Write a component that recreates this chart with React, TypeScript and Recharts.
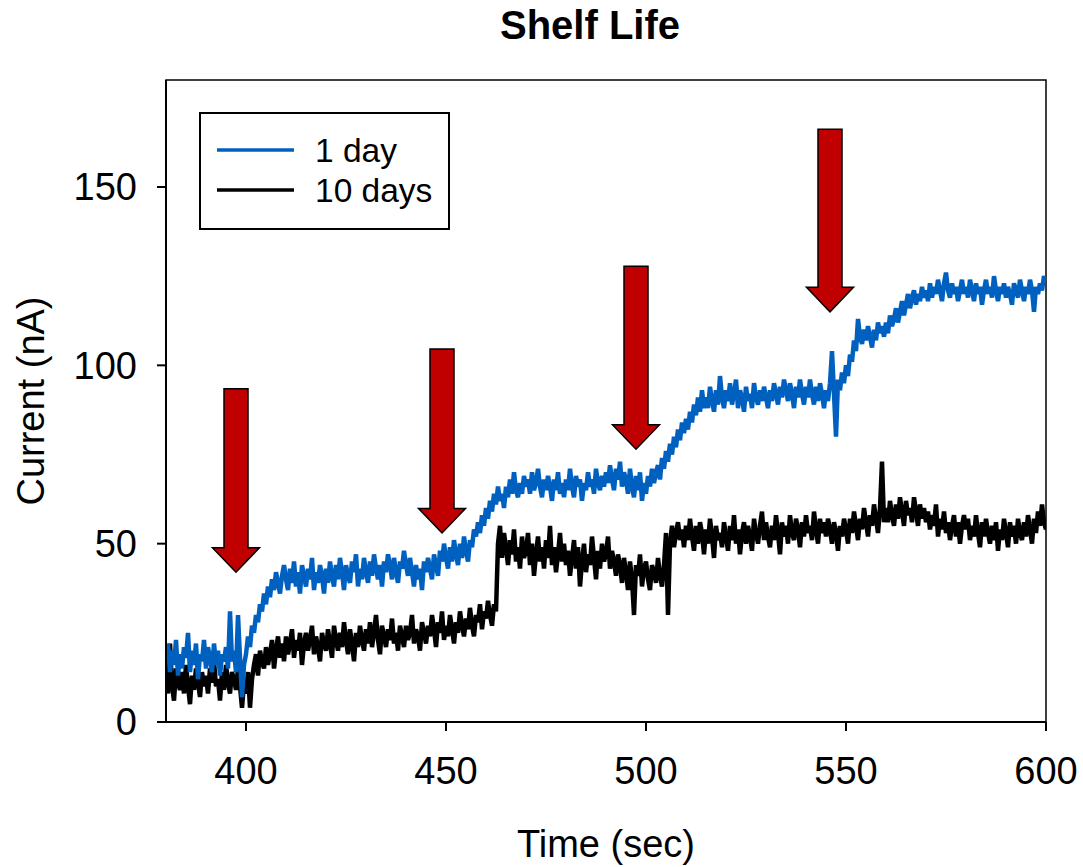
import React from 'react';
import { ComposedChart, Line, Scatter, XAxis, YAxis, Legend, ReferenceArea } from 'recharts';

const FONT = '"Liberation Sans", Arial, sans-serif';

// time axis starts at 380 s, one reading every 0.5 s
const T_START = 380;
const T_STEP = 0.5;
const timeTicks = [400, 450, 500, 550, 600];
const currentTicks = [0, 50, 100, 150];

// Current (nA), 1 day
const oneDay = [
  17, 22, 14, 20, 16, 23, 13, 19, 15, 21,
  18, 25, 14, 20, 16, 22, 12, 19, 17, 23,
  15, 21, 18, 14, 22, 16, 20, 13, 19, 17,
  21, 15, 31, 17, 20, 14, 30, 18, 7, 16,
  19, 24, 21, 27, 25, 30, 28, 33, 31, 36,
  33, 38, 35, 40, 37, 42, 39, 36, 41, 44,
  40, 37, 43, 39, 45, 38, 42, 36, 44, 41,
  38, 43, 40, 46, 37, 42, 39, 44, 41, 36,
  43, 39, 45, 41, 38, 44, 40, 46, 42, 37,
  44, 41, 39, 45, 42, 47, 38, 43, 40, 46,
  42, 39, 45, 41, 47, 43, 40, 44, 38, 45,
  42, 47, 44, 40, 46, 42, 39, 45, 43, 48,
  44, 41, 46, 42, 38, 44, 40, 43, 37, 45,
  42, 46, 43, 40, 47, 44, 41, 48, 45, 50,
  46, 43, 49, 45, 51, 47, 44, 50, 46, 52,
  48, 45, 51, 49, 54, 52, 56, 53, 58, 55,
  60, 57, 62, 59, 64, 61, 66, 62, 64, 60,
  66, 63, 68, 64, 70, 65, 63, 67, 64, 69,
  66, 68, 64, 70, 65, 67, 71, 66, 63, 68,
  65, 69, 66, 62, 68, 65, 70, 64, 67, 63,
  68, 65, 71, 66, 63, 69, 66, 68, 62, 67,
  65, 70, 66, 68, 64, 71, 67, 65, 69, 66,
  70, 67, 72, 68, 65, 71, 68, 73, 66, 70,
  68, 64, 71, 66, 63, 69, 65, 70, 62, 67,
  64, 69, 66, 71, 67, 70, 72, 68, 74, 71,
  76, 73, 78, 75, 80, 77, 82, 79, 84, 81,
  85, 82, 87, 84, 89, 86, 91, 87, 93, 88,
  91, 88, 94, 90, 87, 93, 89, 97, 91, 88,
  93, 90, 95, 89, 92, 96, 88, 93, 91, 87,
  94, 90, 92, 88, 95, 91, 89, 93, 90, 94,
  91, 88, 93, 90, 95, 92, 89, 94, 91, 96,
  93, 90, 95, 92, 88, 94, 91, 96, 92, 89,
  94, 91, 96, 92, 89, 94, 90, 95, 92, 88,
  93, 90, 95, 104, 92, 80, 96, 93, 98, 95,
  100, 97, 103, 101, 107, 104, 113, 108, 106, 110,
  107, 111, 108, 105, 110, 107, 112, 109, 111, 108,
  112, 109, 114, 111, 113, 116, 112, 115, 118, 114,
  117, 120, 116, 119, 121, 117, 120, 118, 122, 119,
  121, 118, 123, 119, 122, 120, 124, 121, 118, 123,
  126, 121, 119, 123, 120, 122, 118, 121, 124, 120,
  122, 119, 124, 121, 118, 123, 120, 122, 117, 121,
  124, 120, 122, 119, 125, 121, 118, 122, 120, 123,
  119, 122, 120, 117, 123, 121, 119, 124, 121, 118,
  122, 120, 124, 121, 115, 122, 120, 123, 121, 125,
  123,
];

// Current (nA), 10 days
const tenDays = [
  12, 8, 22, 10, 6, 15, 11, 9, 14, 8,
  16, 10, 5, 13, 9, 15, 11, 7, 14, 10,
  13, 8, 15, 11, 17, 10, 12, 6, 14, 9,
  16, 11, 8, 14, 12, 9, 15, 10, 4, 11,
  8, 14, 4, 12, 16, 19, 13, 20, 17, 15,
  21, 16, 19, 23, 15, 20, 24, 18, 22, 17,
  24, 19, 22, 26, 18, 23, 20, 25, 16, 22,
  25, 20, 23, 27, 19, 24, 21, 17, 25, 22,
  20, 26, 22, 18, 27, 23, 20, 25, 21, 28,
  23, 19, 26, 22, 17, 25, 21, 27, 23, 20,
  26, 22, 28, 21, 25, 30, 23, 19, 27, 24,
  21, 26, 23, 29, 22, 25, 20, 27, 24, 21,
  27, 23, 25, 30, 22, 26, 24, 20, 28, 25,
  22, 27, 24, 30, 26, 21, 28, 25, 31, 23,
  27, 24, 30, 26, 22, 28, 25, 31, 27, 24,
  29, 26, 32, 27, 24, 30, 28, 33, 26, 31,
  29, 34, 30, 27, 33, 31, 50, 55, 46, 53,
  49, 44, 51, 47, 54, 45, 49, 43, 52, 46,
  48, 53, 44, 50, 41, 47, 52, 45, 49, 43,
  51, 46, 55, 44, 49, 42, 47, 53, 45, 50,
  44, 48, 41, 46, 51, 43, 49, 38, 45, 50,
  42, 47, 44, 52, 46, 40, 48, 43, 50, 45,
  47, 52, 43, 48, 45, 41, 47, 44, 39, 46,
  42, 37, 45, 40, 30, 44, 41, 47, 38, 43,
  45, 40, 37, 44, 42, 39, 46, 41, 38, 44,
  53, 30, 50, 55, 49, 53, 56, 51, 54, 49,
  55, 51, 57, 52, 48, 55, 50, 56, 53, 47,
  54, 50, 57, 52, 46, 55, 51, 53, 49, 56,
  52, 48, 55, 51, 58, 50, 54, 47, 53, 56,
  50, 55, 52, 48, 57, 53, 50, 55, 59, 51,
  56, 52, 49, 55, 51, 58, 53, 47, 56, 52,
  55, 50, 58, 53, 51, 57, 54, 49, 56, 52,
  58, 53, 55, 51, 59, 54, 50, 57, 53, 56,
  52, 57, 54, 50, 56, 53, 48, 55, 52, 57,
  54, 50, 57, 53, 59, 55, 51, 57, 54, 60,
  56, 52, 58, 55, 61, 57, 53, 60, 73, 56,
  60, 56, 62, 58, 55, 61, 57, 63, 59, 55,
  62, 58, 60, 56, 63, 59, 55, 61, 57, 60,
  56, 59, 54, 58, 55, 61, 52, 57, 54, 59,
  53, 56, 51, 55, 58, 52, 56, 50, 55, 58,
  54, 57, 51, 55, 52, 58, 53, 49, 56, 52,
  57, 53, 50, 55, 51, 56, 48, 54, 51, 57,
  53, 49, 56, 52, 55, 50, 57, 53, 51, 56,
  52, 58, 54, 50, 57, 53, 59, 55, 61, 56,
  54,
];

// addition markers: time, top of the arrow and tip (nA)
const arrowTimes = [397.5, 449, 497.5, 546];
const arrowTops = [93.4, 104.6, 127.8, 166.2];
const arrowTips = [42, 53, 76.5, 115];

const oneDayData = oneDay.map((v, i) => ({ t: T_START + i * T_STEP, v }));
const tenDaysData = tenDays.map((v, i) => ({ t: T_START + i * T_STEP, v }));
const arrowData = arrowTimes.map((t, i) => ({ t, tip: arrowTips[i], top: arrowTops[i] }));

const W = 1083;
const H = 867;
const MARGIN = { top: 80, right: 37, bottom: 0, left: 0 };
const Y_AXIS_W = 166;
const X_AXIS_H = 145;
const Y_MAX = 180;
const PLOT_H = H - MARGIN.top - X_AXIS_H;
const PX_PER_UNIT = PLOT_H / Y_MAX;

const ArrowShape = (props: any) => {
  const { cx, cy, payload } = props;
  if (cx == null || cy == null) return null;
  const topY = cy - (payload.top - payload.tip) * PX_PER_UNIT;
  const sw = 12;
  const hw = 23.5;
  const hh = 24.5;
  const pts = [
    [cx - sw, topY],
    [cx + sw, topY],
    [cx + sw, cy - hh],
    [cx + hw, cy - hh],
    [cx, cy],
    [cx - hw, cy - hh],
    [cx - sw, cy - hh],
  ]
    .map((p) => p.join(','))
    .join(' ');
  return <polygon points={pts} fill="#C00000" stroke="#000" strokeWidth={1.5} strokeLinejoin="miter" />;
};

const LegendBox = (props: any) => {
  const items = (props.payload || []).filter((p: any) => p.type !== 'none');
  return (
    <svg width={251} height={118} style={{ display: 'block' }}>
      <rect x={1} y={1} width={249} height={116} fill="#fff" stroke="#000" strokeWidth={2} />
      {items.map((p: any, i: number) => (
        <g key={p.value}>
          <line x1={18} x2={95} y1={38 + i * 40} y2={38 + i * 40} stroke={p.color} strokeWidth={3.5} />
          <text x={116} y={49.5 + i * 40.5} fontSize={33.5} fontFamily={FONT} fill="#000">
            {p.value}
          </text>
        </g>
      ))}
    </svg>
  );
};

export default function App() {
  return (
    <div style={{ position: 'absolute', left: 0, top: 0, width: W, height: H, background: '#fff' }}>
      <div
        style={{
          position: 'absolute',
          left: 390,
          top: 5,
          width: 400,
          textAlign: 'center',
          fontFamily: FONT,
          fontWeight: 'bold',
          fontSize: 40,
          lineHeight: '40px',
          color: '#000',
        }}
      >
        Shelf Life
      </div>
      <ComposedChart width={W} height={H} margin={MARGIN}>
        <XAxis
          type="number"
          dataKey="t"
          domain={[380, 600]}
          ticks={timeTicks}
          allowDataOverflow
          height={X_AXIS_H}
          tickSize={9}
          tickMargin={26}
          stroke="#000"
          strokeWidth={2}
          tick={{ fontSize: 38, fill: '#000', fontFamily: FONT }}
          label={{
            value: 'Time (sec)',
            position: 'insideBottom',
            offset: 10,
            style: { fontSize: 38, fill: '#000', fontFamily: FONT },
          }}
        />
        <YAxis
          type="number"
          domain={[0, Y_MAX]}
          ticks={currentTicks}
          allowDataOverflow
          width={Y_AXIS_W}
          tickSize={9}
          tickMargin={20}
          stroke="#000"
          strokeWidth={2}
          tick={{ fontSize: 38, fill: '#000', fontFamily: FONT }}
          label={{
            value: 'Current (nA)',
            angle: -90,
            position: 'insideLeft',
            offset: 31,
            style: { fontSize: 38, fill: '#000', fontFamily: FONT, textAnchor: 'middle' },
          }}
        />
        <ReferenceArea x1={380} x2={600} y1={0} y2={Y_MAX} fill="none" stroke="#000" strokeWidth={1.5} ifOverflow="visible" />
        <Line
          data={tenDaysData}
          dataKey="v"
          name="10 days"
          stroke="#000000"
          strokeWidth={4.5}
          dot={false}
          activeDot={false}
          isAnimationActive={false}
          legendType="line"
        />
        <Line
          data={oneDayData}
          dataKey="v"
          name="1 day"
          stroke="#0060C0"
          strokeWidth={4.5}
          dot={false}
          activeDot={false}
          isAnimationActive={false}
          legendType="line"
        />
        <Scatter
          data={arrowData}
          dataKey="tip"
          legendType="none"
          isAnimationActive={false}
          shape={ArrowShape}
        />
        <Legend
          layout="horizontal"
          verticalAlign="middle"
          align="center"
          content={LegendBox}
          itemSorter={(item: any) => (item.value === '1 day' ? 0 : 1)}
          wrapperStyle={{ position: 'absolute', left: 199, top: 112, width: 251, height: 118 }}
        />
      </ComposedChart>
    </div>
  );
}
